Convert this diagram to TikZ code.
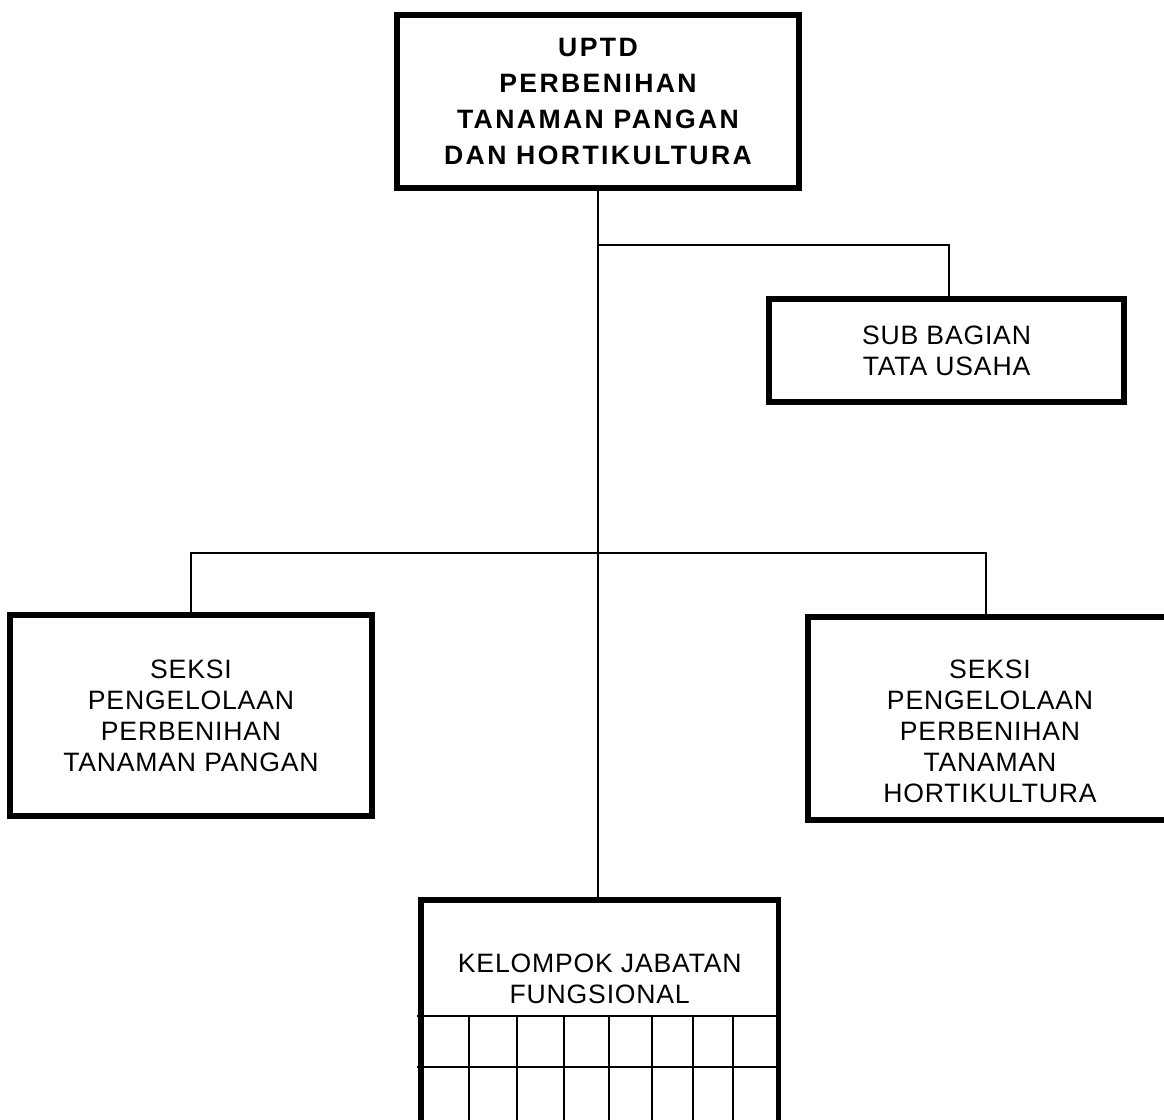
\documentclass[tikz,border=0pt]{standalone}
\usepackage{fontspec}
\setmainfont{Liberation Sans}
\usetikzlibrary{positioning}

\newfontfamily\unitface[LetterSpace=3]{Liberation Sans}
\newfontfamily\headface[LetterSpace=9]{Liberation Sans}
\newcommand{\unitfont}{\unitface\fontsize{26.6pt}{31pt}\selectfont}
\newcommand{\headfont}{\headface\bfseries\fontsize{26.6pt}{35.7pt}\selectfont}

\begin{document}
\begin{tikzpicture}[
            x = 1pt, y = -1pt, % one unit is one pixel, y grows downwards
            unit/.style = {draw = black, line width = 5.5pt, inner sep = 0pt,
                align = center, font = \unitfont},
            head/.style = {unit, font = \headfont},
            unitlabel/.style = {inner sep = 0pt, align = center, font = \unitfont},
            link/.style = {draw = black, line width = 2pt},
            cell/.style = {draw = black, line width = 2pt}
        ]

        \useasboundingbox (0,0) rectangle (1164,1119);

        % boxes
        \node[head, minimum width = 402pt, minimum height = 173pt] (uptd) at (598,101.5)
            {UPTD\\PERBENIHAN\\TANAMAN PANGAN\\DAN HORTIKULTURA};
        \node[unit, minimum width = 355pt, minimum height = 103pt] (tu) at (946.5,350.5)
            {SUB BAGIAN\\TATA USAHA};
        \node[unit, minimum width = 362pt, minimum height = 201pt] (tp) at (191,715.5)
            {SEKSI\\PENGELOLAAN\\PERBENIHAN\\TANAMAN PANGAN};
        \node[unit, minimum width = 364pt, minimum height = 203pt] (horti) at (990,718.5) {};
        \node[unitlabel, below = 45pt of horti.north] (hortitext)
            {SEKSI\\PENGELOLAAN\\PERBENIHAN\\TANAMAN\\HORTIKULTURA};
        \node[unit, minimum width = 357.5pt, minimum height = 260pt] (jf) at (599.75,1030) {};
        \node[unitlabel, below = 56pt of jf.north] (jftext) {KELOMPOK JABATAN\\FUNGSIONAL};

        % connectors
        \coordinate (tujoint) at (598,245);
        \coordinate (seksijoint) at (598,553);
        \draw[link] (uptd.south) -- (uptd.south |- jf.north);
        \draw[link] (tujoint) -| ([xshift=2.5pt]tu.north);
        \draw[link] (tp.north) |- (seksijoint) -| ([xshift=-4pt]horti.north);

        % grid of the functional group
        \foreach \gy in {1016,1067}
            \draw[cell] (417,\gy) -- (jf.east |- 0,\gy);
        \foreach \gx in {469,516.7,564,609,651.7,692.7,733}
            \draw[cell] (\gx,1016) -- (\gx,1125);

  \end{tikzpicture}
\end{document}
